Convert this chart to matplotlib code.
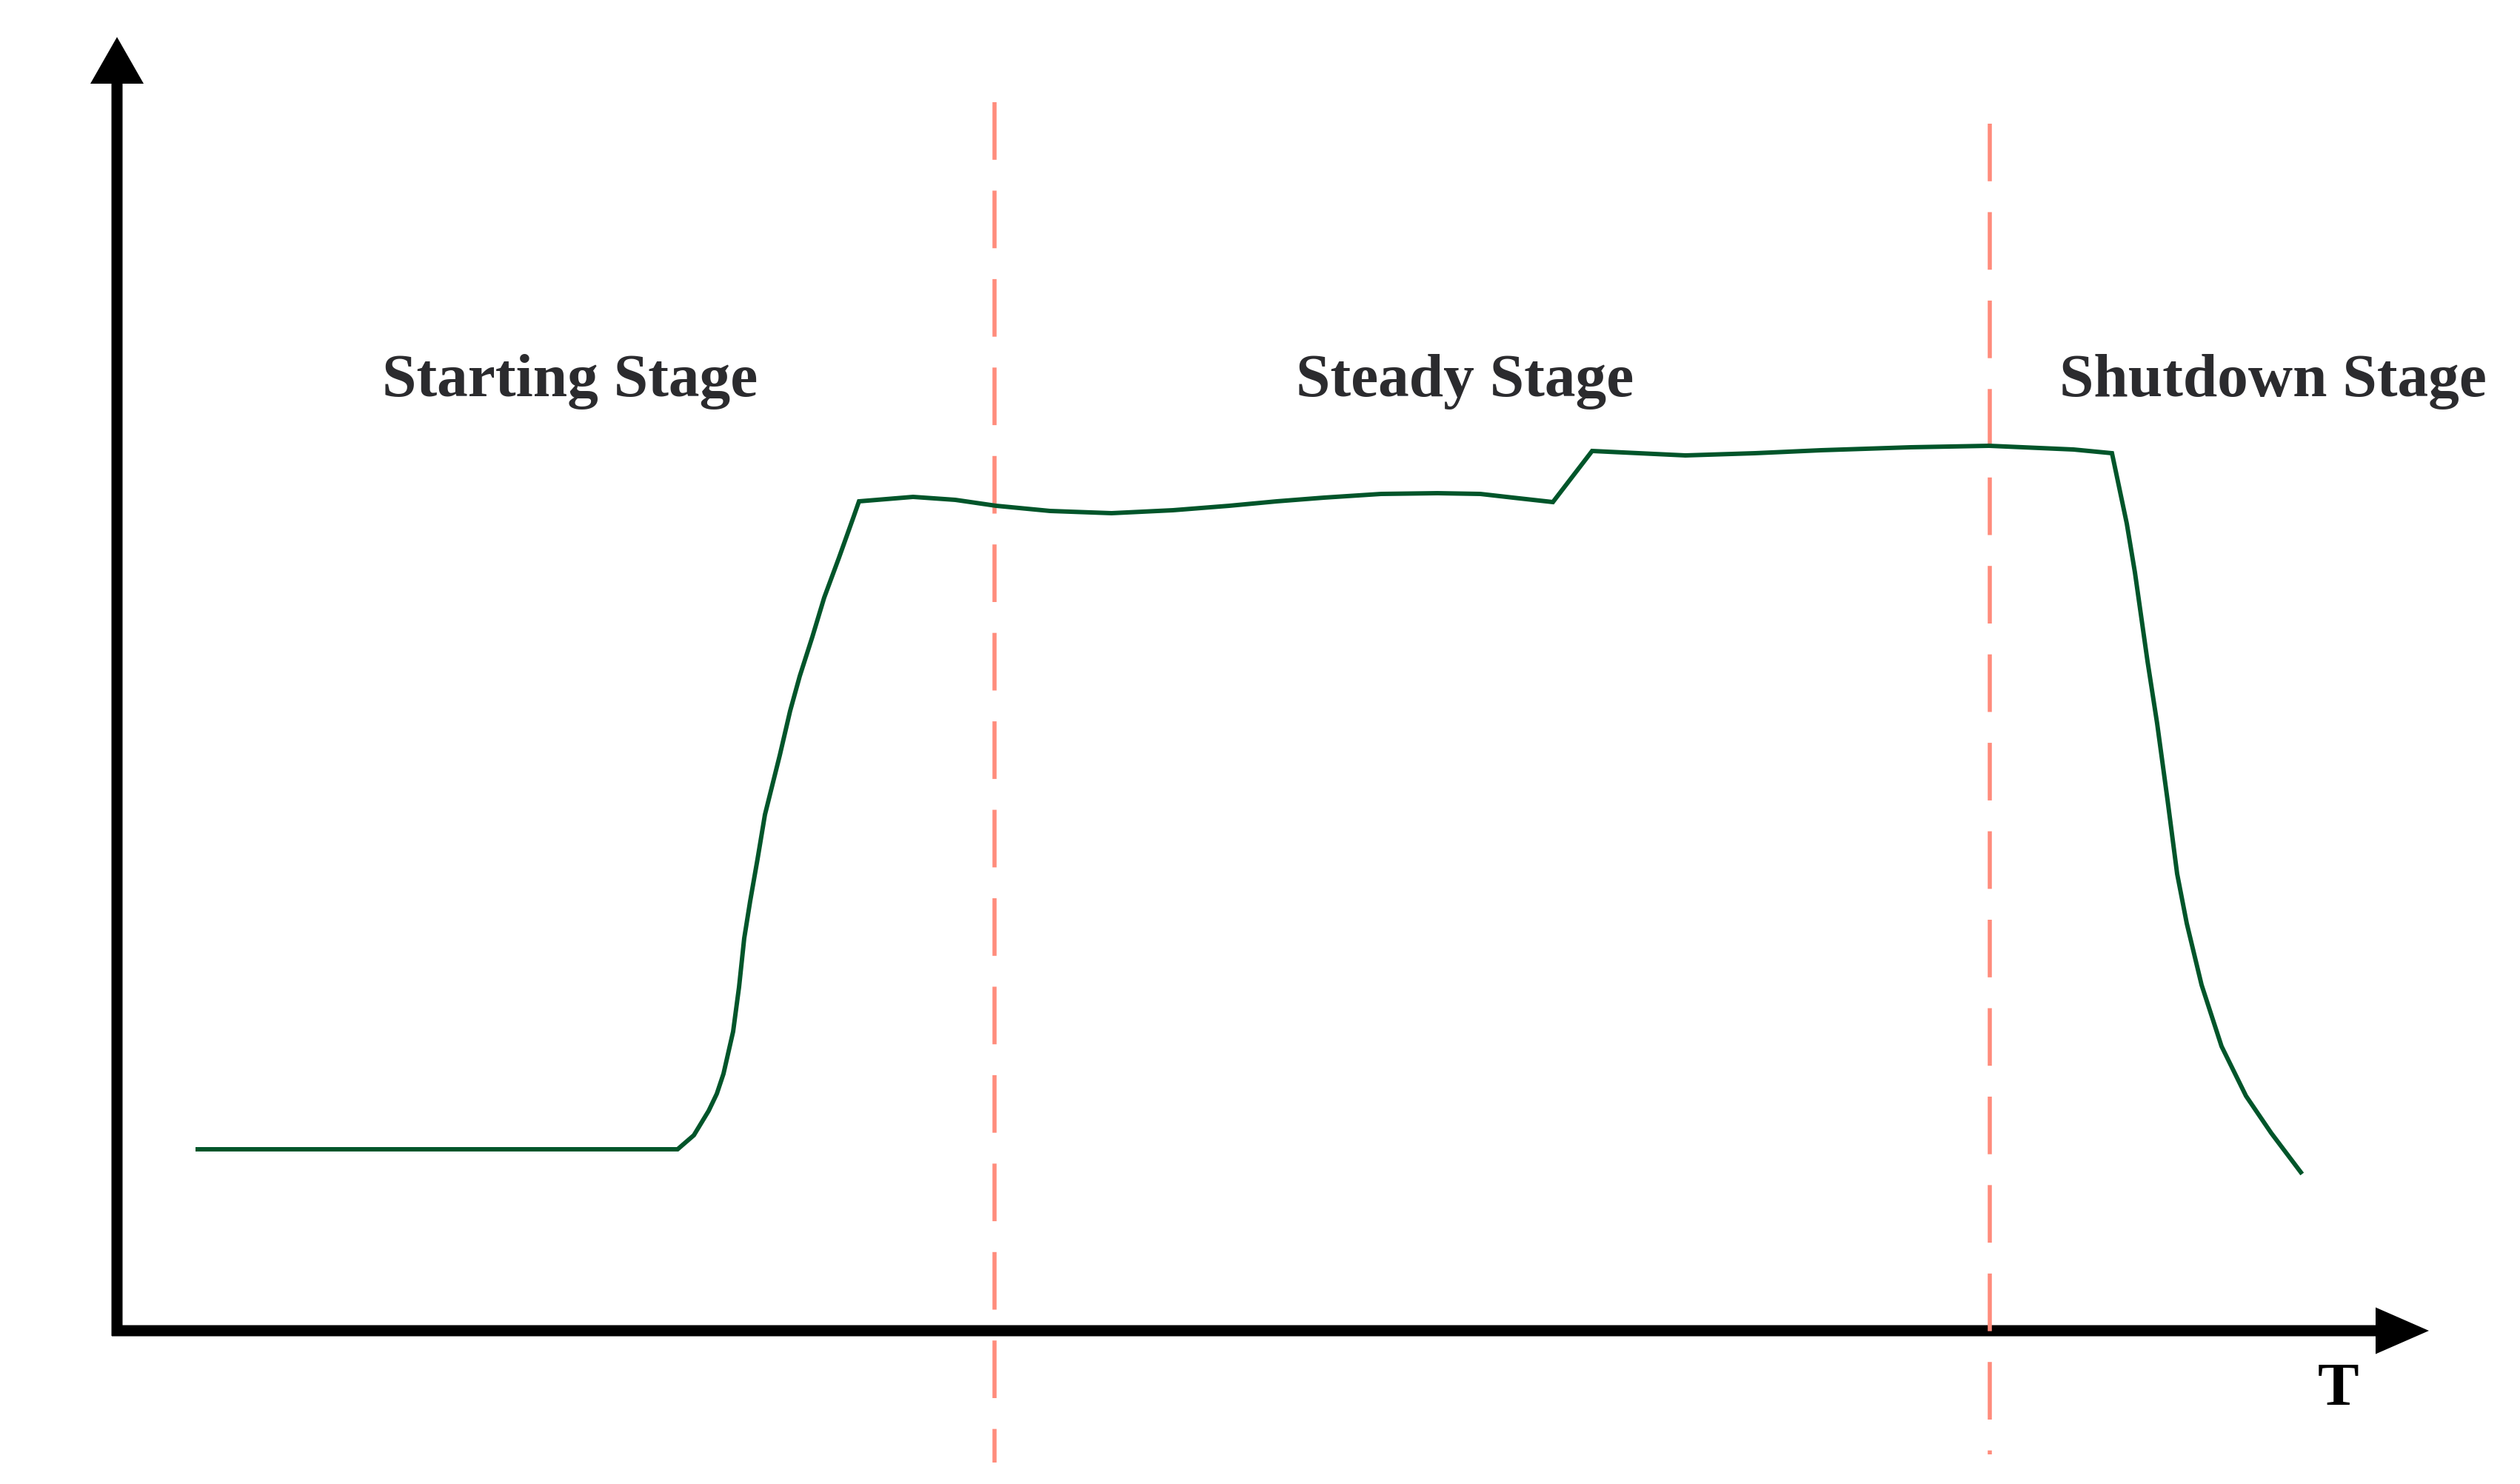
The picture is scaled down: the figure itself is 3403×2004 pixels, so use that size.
import matplotlib
matplotlib.use('Agg')
import matplotlib.pyplot as plt

# Schematic: operating curve over time, split into three stages
time = [1.09, 7.22, 7.57, 7.79, 7.99, 8.10, 8.19, 8.32, 8.40, 8.47, 8.55, 8.65, 8.75,
        8.95, 9.09, 9.22, 9.39, 9.55, 9.75, 9.95, 10.02,
        10.75, 11.32, 11.87, 12.60, 13.43, 14.26, 15.02, 15.66, 16.30, 17.07,
        17.83, 18.41, 18.85, 19.39,
        19.92, 21.18, 22.12, 23.01, 24.22, 25.28, 26.42, 26.94,
        27.14, 27.25, 27.42, 27.55, 27.69, 27.82, 27.95, 28.15, 28.42, 28.75,
        29.09, 29.49]
value = [2.45, 2.45, 2.45, 2.64, 2.97, 3.20, 3.47, 4.04, 4.64, 5.30, 5.80, 6.37, 6.97,
         7.77, 8.37, 8.84, 9.37, 9.90, 10.44, 11.00, 11.20,
         11.26, 11.22, 11.14, 11.07, 11.04, 11.08, 11.14, 11.20, 11.25, 11.30,
         11.31, 11.30, 11.25, 11.19,
         11.88, 11.82, 11.85, 11.89, 11.93, 11.95, 11.90, 11.85,
         10.90, 10.24, 9.04, 8.20, 7.17, 6.17, 5.50, 4.67, 3.84, 3.17,
         2.67, 2.14]

stage_bounds = [11.85, 25.29]
bound_top = [16.59, 16.30]
bound_bottom = [-1.78, -1.67]

stage_names = ['Starting Stage', 'Steady Stage', 'Shutdown Stage']
stage_x = [6.12, 18.20, 29.11]
label_y = 12.62

plt.rcParams['lines.scale_dashes'] = False

fig = plt.figure(figsize=(34.03, 20.04), dpi=100)
ax = fig.add_axes([0, 0, 1, 1])
ax.set_xlim(-1.58, 32.45)
ax.set_ylim(-2.07, 17.97)
ax.axis('off')

# axes drawn as arrows
ax.arrow(0, -0.07, 0, 17.54, width=0.15, head_width=0.72, head_length=0.63,
         length_includes_head=True, color='black', lw=0)
ax.arrow(-0.07, 0, 31.29, 0, width=0.15, head_width=0.63, head_length=0.72,
         length_includes_head=True, color='black', lw=0)

# stage boundaries (drawn top-down so the dash pattern starts at the top)
for x, top, bot in zip(stage_bounds, bound_top, bound_bottom):
    ax.plot([x, x], [top, bot], color='#ff8c7c', lw=4.0,
            dashes=(56, 30), dash_capstyle='butt')

ax.plot(time, value, color='#00552a', lw=4.3, solid_joinstyle='miter')

for name, x in zip(stage_names, stage_x):
    ax.text(x, label_y, name, ha='center', va='baseline', fontsize=60,
            family='Liberation Serif', weight='bold', color='#2b2b2e')

ax.text(30.0, -1.0, 'T', ha='center', va='baseline', fontsize=60,
        family='Liberation Serif', weight='bold', color='black')

plt.savefig('out.png', dpi=100)
